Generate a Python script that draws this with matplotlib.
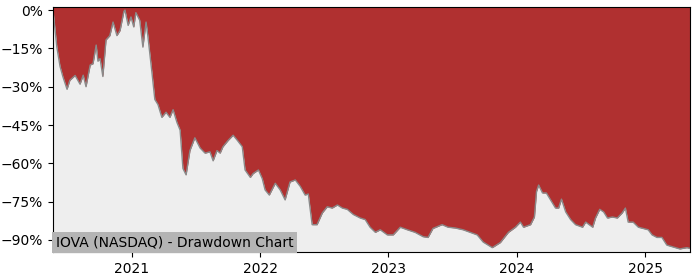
import numpy as np
import pandas as pd
import matplotlib
matplotlib.use("Agg")
import matplotlib.pyplot as plt
import matplotlib.dates as mdates
from matplotlib.ticker import FuncFormatter

# drawdown trace (date, % below running peak)
dates = [
    "2020-05-21", "2020-06-01", "2020-06-10", "2020-06-18", "2020-06-30", "2020-07-08",
    "2020-07-23", "2020-08-06", "2020-08-15", "2020-08-23", "2020-09-04", "2020-09-12",
    "2020-09-21", "2020-09-26", "2020-10-02", "2020-10-10", "2020-10-19", "2020-10-30",
    "2020-11-08", "2020-11-19", "2020-11-28", "2020-12-09", "2020-12-12", "2020-12-21",
    "2020-12-29", "2021-01-06", "2021-01-12", "2021-01-23", "2021-02-01", "2021-02-10",
    "2021-02-15", "2021-02-27", "2021-03-07", "2021-03-16", "2021-03-27", "2021-04-08",
    "2021-04-19", "2021-04-28", "2021-05-09", "2021-05-18", "2021-05-26", "2021-06-04",
    "2021-06-15", "2021-06-29", "2021-07-14", "2021-07-28", "2021-08-11", "2021-08-20",
    "2021-08-31", "2021-09-09", "2021-09-17", "2021-10-02", "2021-10-16", "2021-10-28",
    "2021-11-11", "2021-11-19", "2021-12-04", "2021-12-12", "2021-12-27", "2022-01-07",
    "2022-01-15", "2022-01-27", "2022-02-13", "2022-02-27", "2022-03-13", "2022-03-27",
    "2022-04-11", "2022-04-25", "2022-05-09", "2022-05-18", "2022-05-29", "2022-06-12",
    "2022-06-27", "2022-07-11", "2022-07-25", "2022-08-09", "2022-08-23", "2022-09-06",
    "2022-09-23", "2022-10-13", "2022-10-27", "2022-11-10", "2022-11-25", "2022-12-09",
    "2022-12-29", "2023-01-15", "2023-02-04", "2023-02-24", "2023-03-18", "2023-04-10",
    "2023-04-24", "2023-05-08", "2023-06-03", "2023-06-20", "2023-07-10", "2023-08-02",
    "2023-08-22", "2023-09-11", "2023-09-28", "2023-10-24", "2023-11-16", "2023-12-09",
    "2023-12-29", "2024-01-12", "2024-01-21", "2024-02-10", "2024-02-21", "2024-02-27",
    "2024-03-04", "2024-03-15", "2024-03-26", "2024-04-07", "2024-04-21", "2024-04-30",
    "2024-05-08", "2024-05-20", "2024-06-03", "2024-06-17", "2024-07-07", "2024-07-16",
    "2024-08-05", "2024-08-13", "2024-08-25", "2024-09-05", "2024-09-16", "2024-09-30",
    "2024-10-14", "2024-10-28", "2024-11-06", "2024-11-14", "2024-11-28", "2024-12-13",
    "2024-12-27", "2025-01-10", "2025-01-21", "2025-02-04", "2025-02-18", "2025-03-04",
    "2025-03-21", "2025-04-10", "2025-04-30", "2025-05-09",
]
drawdown = [
    0.0, -14.5, -22.0, -26.0, -31.0, -27.5,
    -25.6, -29.0, -25.5, -30.0, -21.5, -21.0,
    -13.7, -20.0, -19.0, -26.0, -11.7, -10.0,
    -4.7, -10.0, -8.0, -0.5, 0.0, -6.0,
    -2.7, -6.6, -1.0, -4.0, -14.5, -4.7,
    -10.0, -24.7, -35.0, -37.0, -42.0, -40.0,
    -42.0, -39.0, -44.0, -47.0, -62.0, -64.5,
    -55.0, -50.0, -54.0, -56.0, -55.5, -59.0,
    -55.0, -56.0, -53.5, -51.0, -49.0, -51.0,
    -53.5, -62.6, -65.5, -64.0, -62.6, -66.0,
    -70.4, -72.4, -67.8, -70.4, -74.3, -67.3,
    -66.5, -69.0, -72.4, -72.0, -84.0, -84.0,
    -79.4, -77.0, -77.5, -76.3, -77.5, -78.0,
    -80.0, -81.4, -82.0, -85.0, -87.0, -86.0,
    -88.0, -88.0, -85.0, -86.0, -87.0, -88.7,
    -89.0, -85.5, -84.0, -85.0, -85.3, -86.0,
    -87.0, -88.0, -90.8, -93.0, -91.0, -87.0,
    -85.0, -83.0, -85.0, -84.0, -81.0, -71.0,
    -68.5, -71.6, -71.6, -74.3, -77.5, -77.5,
    -74.0, -79.0, -82.0, -84.0, -85.0, -83.0,
    -85.0, -81.4, -78.0, -79.0, -81.4, -81.0,
    -81.4, -79.4, -77.5, -83.0, -83.0, -85.0,
    -85.5, -86.0, -88.0, -89.0, -89.0, -92.0,
    -92.7, -93.5, -93.0, -93.3,
]
ytick_vals = [0, -15, -30, -45, -60, -75, -90]
title = "IOVA (NASDAQ) - Drawdown Chart"

x = pd.to_datetime(dates)
dd = np.array(drawdown)

fig = plt.figure(figsize=(7, 2.8), dpi=100)
ax = fig.add_axes([0.0757, 0.1, 0.91, 0.875])

ymin, ymax = -94.7, 1.2
ax.set_facecolor("#b03030")
ax.fill_between(x, dd, ymin, color="#eeeeee", linewidth=0)
ax.plot(x, dd, color="#8a8a8a", linewidth=1.0)

ax.set_xlim(x[0], x[-1])
ax.set_ylim(ymin, ymax)
ax.set_yticks(ytick_vals)
ax.yaxis.set_major_formatter(FuncFormatter(lambda v, p: f"{v:.0f}%".replace("-", "\u2212")))
ax.xaxis.set_major_locator(mdates.YearLocator())
ax.xaxis.set_major_formatter(mdates.DateFormatter("%Y"))
ax.tick_params(labelsize=10)

ax.text(0.004, 0.012, title, transform=ax.transAxes, fontsize=10, ha="left", va="bottom",
        bbox=dict(facecolor="#b4b4b4", edgecolor="none", pad=2.5))

fig.savefig("out.png", dpi=100)
